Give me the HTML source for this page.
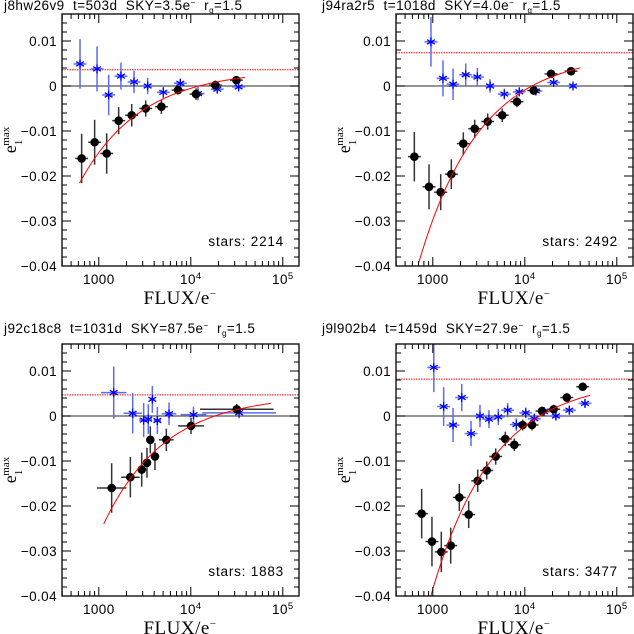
<!DOCTYPE html>
<html><head><meta charset="utf-8"><style>
html,body{margin:0;padding:0;background:#fff}
svg{display:block}
.t{font-family:"Liberation Sans",sans-serif;font-size:13.5px;fill:#000;white-space:pre}
.s{font-family:"Liberation Serif",serif;fill:#000}
</style></head><body>
<svg id="c" width="634" height="634" viewBox="0 0 634 634" xmlns="http://www.w3.org/2000/svg"></svg>
<script>
// ---- data (flux in e-, ellipticity) ----
const p1BlackFlux=[651,901,1218,1644,2278,3236,4790,7270,11400,18500,31300];
const p1BlackE=[-0.0161,-0.0125,-0.0150,-0.0077,-0.0065,-0.0050,-0.0046,-0.0009,-0.0018,0.0002,0.0013];
const p1BlackErr=[0.0055,0.005,0.0045,0.003,0.0025,0.0018,0.0016,0.001,0.0013,0.001,0.0008];
const p1BlueFlux=[625,957,1280,1741,2415,3395,5020,7690,11970,19400,33100];
const p1BlueE=[0.0049,0.0038,-0.0020,0.0022,0.0009,0.0000,-0.0014,0.0006,-0.0017,-0.0007,-0.0002];
const p1BlueErr=[0.0055,0.005,0.0045,0.003,0.0025,0.0018,0.0015,0.001,0.0015,0.001,0.0008];
const p1Asym=0.0036, p1K=1.64, p1Range=[617,38900], p1Stars=2214;

const p2BlackFlux=[630,910,1219,1590,2146,2854,3950,5690,8220,12500,19300,31800];
const p2BlackE=[-0.0157,-0.0224,-0.0236,-0.0196,-0.0128,-0.0095,-0.0079,-0.0065,-0.0035,-0.0010,0.0027,0.0033];
const p2BlackErr=[0.0055,0.005,0.004,0.0033,0.0025,0.002,0.0018,0.0015,0.0012,0.001,0.0008,0.0008];
const p2BlueFlux=[955,1290,1660,2280,3050,4190,5990,8710,13200,20600,33400];
const p2BlueE=[0.0098,0.0017,0.0004,0.0025,0.0020,0.0000,-0.0018,-0.0013,-0.0011,0.0008,0.0000];
const p2BlueErr=[0.0055,0.004,0.0035,0.0025,0.002,0.0015,0.0012,0.001,0.001,0.0008,0.0006];
const p2Asym=0.0074, p2K=3.31, p2Range=[702,40100], p2Stars=2492;

const p3BlackFlux=[1380,2203,2926,3340,3630,4080,5420,10060,31600];
const p3BlackE=[-0.0160,-0.0136,-0.0119,-0.0104,-0.0053,-0.0090,-0.0053,-0.0022,0.0015];
const p3BlackErr=[0.0055,0.0045,0.0038,0.0033,0.003,0.003,0.0025,0.0018,0.0012];
const p3BlackXerr=[0.16,0.1,0.05,0.04,0.03,0.04,0.08,0.14,0.4];
const p3BlueFlux=[1453,2336,3074,3450,3820,4330,5800,10700,33500];
const p3BlueE=[0.0052,0.0006,-0.0009,-0.0007,0.0037,-0.0010,0.0005,0.0003,0.0007];
const p3BlueErr=[0.0058,0.0045,0.0038,0.0033,0.003,0.003,0.0025,0.0018,0.0012];
const p3BlueXerr=[0.14,0.1,0.05,0.04,0.03,0.04,0.08,0.14,0.4];
const p3Asym=0.0047, p3K=2.77, p3Range=[1130,73800], p3Stars=1883;

const p4BlackFlux=[757,979,1237,1565,1943,2455,3076,3856,4827,6140,7690,9490,11970,15380,20600,28600,42600];
const p4BlackE=[-0.0217,-0.0279,-0.0302,-0.0288,-0.0181,-0.0219,-0.0144,-0.0121,-0.0090,-0.0051,-0.0064,-0.0020,-0.0020,0.0011,0.0015,0.0041,0.0065];
const p4BlackErr=[0.0055,0.0055,0.0045,0.004,0.003,0.003,0.0025,0.002,0.0018,0.0016,0.0014,0.0012,0.0012,0.001,0.001,0.001,0.0009];
const p4BlueFlux=[1026,1312,1660,2062,2603,3258,4080,5150,6510,8090,10240,12690,16150,21800,30500,45100];
const p4BlueE=[0.0108,0.0021,-0.0020,0.0041,-0.0039,0.0000,-0.0007,-0.0002,0.0013,-0.0019,0.0007,-0.0006,0.0010,0.0000,0.0013,0.0028];
const p4BlueErr=[0.0055,0.0043,0.0038,0.003,0.0028,0.0025,0.002,0.0018,0.0016,0.0014,0.0012,0.0012,0.001,0.001,0.001,0.0009];
const p4Asym=0.0082, p4K=4.16, p4Range=[955,51500], p4Stars=3477;

const xTickLabels=['1000','10','10'];
const xTickExp=[null,'4','5'];
const yTickValues=[0.01,0,-0.01,-0.02,-0.03,-0.04];
const yTickLabels=['0.01','0','\u22120.01','\u22120.02','\u22120.03','\u22120.04'];
const titles=['j8hw26v9  t=503d  SKY=3.5e','j94ra2r5  t=1018d  SKY=4.0e','j92c18c8  t=1031d  SKY=87.5e','j9l902b4  t=1459d  SKY=27.9e'];

const NS='http://www.w3.org/2000/svg';
const svg=document.getElementById('c');
function mk(tag,attrs,parent){const e=document.createElementNS(NS,tag);for(const k in attrs)e.setAttribute(k,attrs[k]);(parent||svg).appendChild(e);return e;}

function panel(idx,L,T,W,titleX,titleY,bF,bE,bErr,bXerr,uF,uE,uErr,uXerr,asym,K,range,stars){
  const H=252, Z=T+72, PY=4500, DEC=92, X0=2.6;
  const g=mk('g',{});
  
  
  const X=f=>L+(Math.log10(f)-X0)*DEC;
  const Y=e=>Z-e*PY;
  const clip='clip'+idx;
  const cp=mk('clipPath',{id:clip},g);mk('rect',{x:L,y:T,width:W,height:H},cp);
  const tt=mk('text',{x:titleX,y:titleY,class:'t','font-size':'13','letter-spacing':'0.45'},g);
  
  
  tt.innerHTML=titles[idx]+'<tspan dy="-5" font-size="8">\u2212</tspan><tspan dy="5">  r</tspan><tspan dy="3" font-size="8">g</tspan><tspan dy="-3">=1.5</tspan>';
  const zl=mk('line',{x1:L,x2:L+W,y1:Z,y2:Z,stroke:'#555','stroke-width':1.3},g);
  
  
  const al=mk('line',{x1:L,x2:L+W,y1:Y(asym),y2:Y(asym),stroke:'#f00','stroke-width':1,'stroke-dasharray':'1.5,1'},g);
  
  
  const dg=mk('g',{'clip-path':'url(#'+clip+')'},g);
  for(let i=0;i<uF.length;i++){
    const x=X(uF[i]),y=Y(uE[i]),dx=(uXerr?uXerr[i]:0.07)*DEC;
    const b=mk('g',{},dg);
    
    
    mk('line',{x1:x,x2:x,y1:Y(uE[i]+uErr[i]),y2:Y(uE[i]-uErr[i]),stroke:'#5b6cf0','stroke-width':1.5},b);
    mk('line',{x1:x-dx,x2:x+dx,y1:y,y2:y,stroke:'#5b6cf0','stroke-width':1.5},b);
    for(let a=0;a<3;a++){const th=Math.PI/2+a*Math.PI/3,r=4.5;
      mk('line',{x1:x-r*Math.cos(th),y1:y-r*Math.sin(th),x2:x+r*Math.cos(th),y2:y+r*Math.sin(th),stroke:'#00f','stroke-width':1.3},b);}
  }
  for(let i=0;i<bF.length;i++){
    const x=X(bF[i]),y=Y(bE[i]),dx=(bXerr?bXerr[i]:0.07)*DEC;
    const b=mk('g',{},dg);
    
    
    mk('line',{x1:x,x2:x,y1:Y(bE[i]+bErr[i]),y2:Y(bE[i]-bErr[i]),stroke:'#333','stroke-width':1.5},b);
    mk('line',{x1:x-dx,x2:x+dx,y1:y,y2:y,stroke:'#333','stroke-width':1.5},b);
    mk('circle',{cx:x,cy:y,r:4.3,fill:'#000'},b);
  }
  let d='';const l0=Math.log10(range[0]),l1=Math.log10(range[1]);
  for(let j=0;j<=80;j++){const f=Math.pow(10,l0+(l1-l0)*j/80);const e=asym-K*Math.pow(f,-0.65);
    d+=(j?'L':'M')+X(f).toFixed(2)+','+Y(e).toFixed(2);}
  const cv=mk('path',{d:d,fill:'none',stroke:'#f00','stroke-width':1},dg);
  
  
  const fr=mk('rect',{x:L,y:T,width:W,height:H,fill:'none',stroke:'#000','stroke-width':1.3},g);
  
  
  for(let dec=2;dec<=5;dec++)for(let m=1;m<=9;m++){
    const lx=dec+Math.log10(m);if(lx<X0||L+(lx-X0)*DEC>L+W)continue;
    const x=L+(lx-X0)*DEC,len=m===1?9:5;
    mk('line',{x1:x,x2:x,y1:T+H,y2:T+H-len,stroke:'#000','stroke-width':1},g);
    mk('line',{x1:x,x2:x,y1:T,y2:T+len,stroke:'#000','stroke-width':1},g);
  }
  xTickLabels.forEach((s,i)=>{
    const x=L+(3+i-X0)*DEC;
    const t=mk('text',{x:x,y:T+H+18,class:'t','text-anchor':'middle','letter-spacing':'0.4'},g);
    
    
    t.innerHTML=xTickExp[i]?s+'<tspan dy="-5" font-size="9.5">'+xTickExp[i]+'</tspan>':s;
  });
  for(let k=-20;k<=8;k++){const v=k*0.002,y=Y(v);if(y<T||y>T+H)continue;
    const len=(k%5===0)?9:5;
    mk('line',{x1:L,x2:L+len,y1:y,y2:y,stroke:'#000','stroke-width':1},g);
    mk('line',{x1:L+W,x2:L+W-len,y1:y,y2:y,stroke:'#000','stroke-width':1},g);}
  yTickValues.forEach((v,i)=>{
    const t=mk('text',{x:L-5,y:Y(v)+5,class:'t','text-anchor':'end','letter-spacing':'0.4'},g);
    
    
    t.textContent=yTickLabels[i];
  });
  const xt=mk('text',{x:L+118,y:T+H+38,class:'s','font-size':'19','text-anchor':'middle','letter-spacing':'0.5'},g);
  
  
  xt.innerHTML='FLUX/e<tspan dy="-7" font-size="11">\u2212</tspan>';
  const yt=mk('text',{transform:'translate('+(L-46)+','+(T+126)+') rotate(-90)',class:'s','font-size':'18','text-anchor':'middle'},g);
  
  
  yt.innerHTML='e<tspan dy="6" font-size="11">1</tspan><tspan dx="-6" dy="-13" font-size="11">max</tspan>';
  const st=mk('text',{x:L+222,y:T+232,class:'t','text-anchor':'end','font-size':'14','letter-spacing':'0.8'},g);
  
  
  st.textContent='stars: '+stars;
}
panel(0,62,14,237,4,10,p1BlackFlux,p1BlackE,p1BlackErr,null,p1BlueFlux,p1BlueE,p1BlueErr,null,p1Asym,p1K,p1Range,p1Stars);
panel(1,396,14,237,322,10,p2BlackFlux,p2BlackE,p2BlackErr,null,p2BlueFlux,p2BlueE,p2BlueErr,null,p2Asym,p2K,p2Range,p2Stars);
panel(2,62,344,237,4,333,p3BlackFlux,p3BlackE,p3BlackErr,p3BlackXerr,p3BlueFlux,p3BlueE,p3BlueErr,p3BlueXerr,p3Asym,p3K,p3Range,p3Stars);
panel(3,396,344,237,322,333,p4BlackFlux,p4BlackE,p4BlackErr,null,p4BlueFlux,p4BlueE,p4BlueErr,null,p4Asym,p4K,p4Range,p4Stars);
</script>
</body></html>
